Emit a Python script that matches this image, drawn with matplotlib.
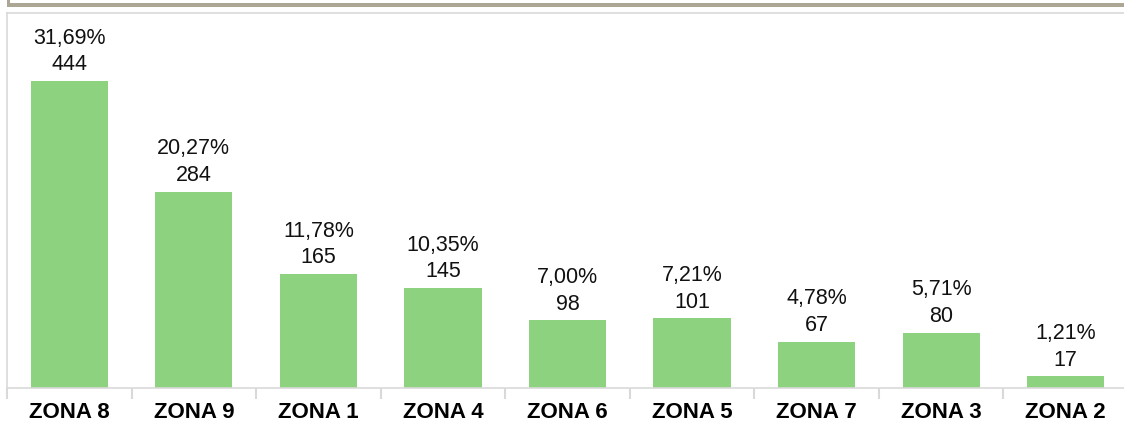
import matplotlib.pyplot as plt
from matplotlib.patches import Rectangle

zonas = ['ZONA 8', 'ZONA 9', 'ZONA 1', 'ZONA 4', 'ZONA 6', 'ZONA 5', 'ZONA 7', 'ZONA 3', 'ZONA 2']
cantidad = [444, 284, 165, 145, 98, 101, 67, 80, 17]
porcentaje = ['31,69%', '20,27%', '11,78%', '10,35%', '7,00%', '7,21%', '4,78%', '5,71%', '1,21%']

plt.rcParams['font.family'] = ['Liberation Sans', 'DejaVu Sans']

W, H = 1124, 440
fig = plt.figure(figsize=(W / 100, H / 100), dpi=100)

# axes box in pixel terms: left 7, bottom line at y=388, top at y=13
ax = fig.add_axes([7 / W, 52 / H, 1121 / W, 375 / H])

x = range(len(zonas))
ax.bar(x, cantidad, width=0.62, color='#8dd27e', zorder=2)

for i, (v, p) in enumerate(zip(cantidad, porcentaje)):
    ax.annotate(f'{p}\n{v}', (i, v), xytext=(0, 4), textcoords='offset points',
                ha='center', va='bottom', fontsize=15.5, linespacing=1.35, color='#111111')

ax.set_xlim(-0.5, len(zonas) - 0.5)
ax.set_ylim(0, 542)
ax.set_yticks([])

ax.set_xticks(list(x))
ax.set_xticklabels(zonas, fontsize=16, fontweight='bold')
ax.tick_params(axis='x', which='major', length=0, pad=10)
ax.set_xticks([i - 0.5 for i in range(len(zonas) + 1)], minor=True)
ax.tick_params(axis='x', which='minor', length=8, width=1.5, color='#d9d9d9')

for s in ['left', 'bottom', 'top']:
    ax.spines[s].set_color('#d9d9d9')
    ax.spines[s].set_linewidth(1.2)
ax.spines['right'].set_visible(False)

# frame band of the panel above
fig.patches.append(Rectangle((7 / W, (H - 7) / H), (W - 7) / W, 4 / H,
                             transform=fig.transFigure, color='#aba794', lw=0))
fig.patches.append(Rectangle((7 / W, (H - 7) / H), 3 / W, 7 / H,
                             transform=fig.transFigure, color='#aba794', lw=0))

fig.savefig('out.png', dpi=100)
